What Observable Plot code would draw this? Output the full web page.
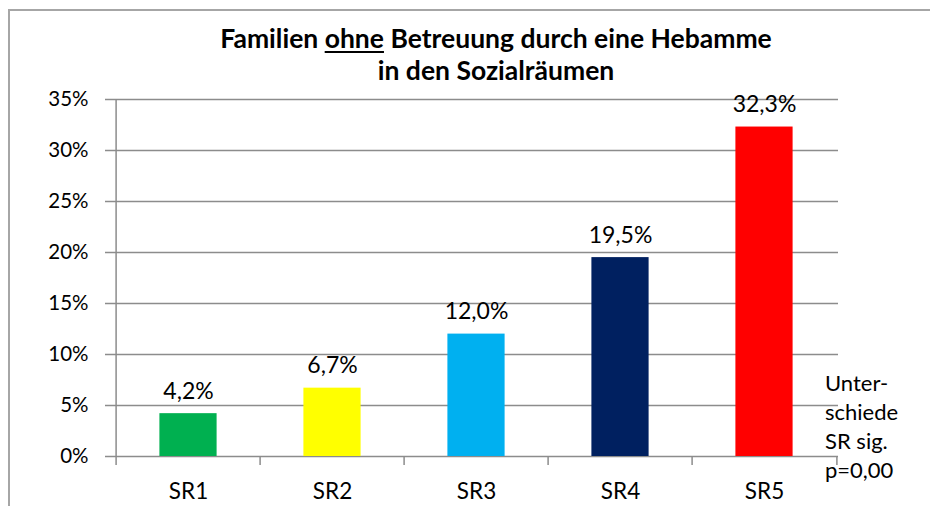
<!DOCTYPE html>
<html>
<head>
<meta charset="utf-8">
<script src="https://cdn.jsdelivr.net/npm/d3@7"></script>
<script src="https://cdn.jsdelivr.net/npm/@observablehq/plot@0.6"></script>
<style>
  html, body { margin: 0; padding: 0; background: #fff; overflow: hidden; }
  body { position: relative; width: 930px; height: 506px; font-family: Lato, "Open Sans", sans-serif; }
  #frame { position: absolute; left: 8px; top: 9px; width: 1000px; height: 600px; border: 2px solid #a6a6a6; box-sizing: border-box; pointer-events: none; }
  #title { position: relative; box-sizing: border-box; width: 930px; height: 90px; padding-left: 62px; padding-top: 22px; text-align: center; font-weight: bold; font-size: 26.5px; line-height: 32px; color: #000; }
  #title u { text-decoration-thickness: 2px; text-underline-offset: 3px; }
  #note { position: absolute; left: 825px; top: 368px; font-size: 22px; line-height: 29px; color: #000; }
  #chart { position: relative; display: block; }
</style>
</head>
<body>
<div id="frame"></div>
<div id="title">Familien <u>ohne</u> Betreuung durch eine Hebamme<br>in den Sozialräumen</div>
<div id="chart"></div>
<div id="note">Unter-<br>schiede<br>SR sig.<br>p=0,00</div>
<script>
const categories = ["SR1", "SR2", "SR3", "SR4", "SR5"];
const values = [4.2, 6.7, 12.0, 19.5, 32.3];
const colors = ["#00B050", "#FFFF00", "#00B0F0", "#002060", "#FF0000"];
const yTicks = [0, 5, 10, 15, 20, 25, 30, 35];

const data = categories.map((c, i) => ({cat: c, value: values[i], color: colors[i]}));

const W = 930, H = 416;
const mL = 114, mR = 92, mT = 9, mB = 50;
const bw = (W - mL - mR) / categories.length;
const grid = "#8c8c8c";
const fmt = v => v.toFixed(1).replace(".", ",") + "%";

const chart = Plot.plot({
  width: W,
  height: H,
  marginLeft: mL,
  marginRight: mR,
  marginTop: mT,
  marginBottom: mB,
  style: {fontFamily: "Lato, 'Open Sans', sans-serif", color: "#000", background: "transparent", overflow: "visible"},
  x: {domain: categories, padding: 0, label: null},
  y: {domain: [0, 35], label: null},
  marks: [
    Plot.ruleY(yTicks, {stroke: grid, strokeWidth: 1.5, insetLeft: -9}),
    Plot.barY(data, {x: "cat", y: "value", fill: "color", insetLeft: 43.4, insetRight: 43.4}),
    Plot.ruleX([categories[0]], {x: d => d, dx: -bw / 2, stroke: grid, strokeWidth: 1.5, insetBottom: -9}),
    Plot.ruleX(categories.slice(1), {x: d => d, y1: 0, y2: 0, dx: -bw / 2, stroke: grid, strokeWidth: 1.5, insetBottom: -9}),
    Plot.ruleX([categories[categories.length - 1]], {x: d => d, y1: 0, y2: 0, dx: bw / 2, stroke: grid, strokeWidth: 1.5, insetBottom: -9}),
    Plot.text(data, {x: "cat", y: "value", text: d => fmt(d.value), lineAnchor: "bottom", dy: -15, fontSize: 23, fill: "#000"}),
    Plot.axisY({ticks: yTicks, tickFormat: d => d + "%", tickSize: 0, tickPadding: 26, fontSize: 20.5, fill: "#000", label: null}),
    Plot.axisX({tickSize: 0, tickPadding: 27, fontSize: 22.5, fill: "#000", label: null})
  ]
});
document.getElementById("chart").appendChild(chart);
</script>
</body>
</html>
